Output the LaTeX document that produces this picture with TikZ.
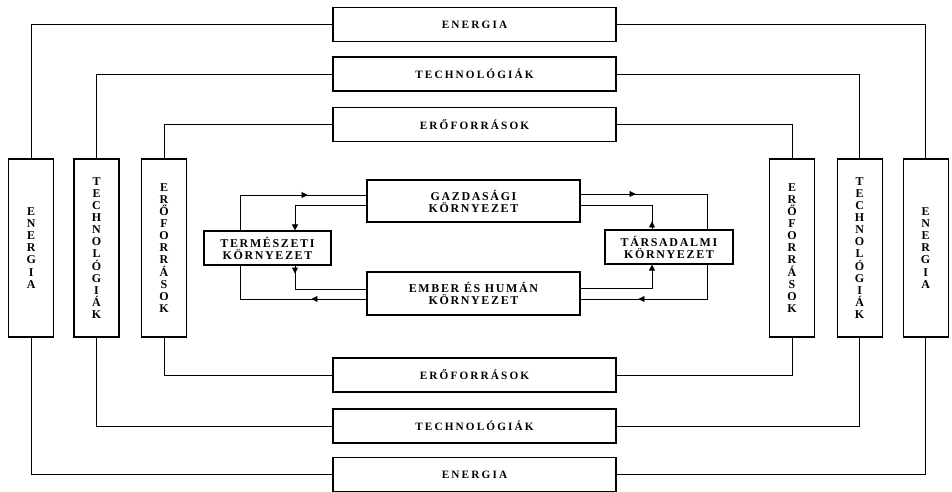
\documentclass[tikz,border=0pt]{standalone}
\usepackage{fontspec}
\setmainfont{Liberation Serif}
\newfontfamily\boxfont{Liberation Serif}[LetterSpace=19]
\newfontfamily\envfont{Liberation Serif}[LetterSpace=14]
\usetikzlibrary{arrows.meta, decorations.markings}

\tikzset{
  hbox/.style={draw, line width=0.8pt, minimum width=7.075cm, minimum height=0.85cm, inner sep=0pt,
    font={\boxfont\bfseries\fontsize{8}{9}\selectfont}},
  vbox/.style={draw, line width=0.8pt, minimum width=1.125cm, minimum height=4.45cm, inner sep=0pt, align=center,
    font={\bfseries\fontsize{8.5}{8.6}\selectfont}},
  envbox/.style={draw, line width=0.8pt, inner sep=0pt, align=center,
    font={\envfont\bfseries\fontsize{8.5}{8.6}\selectfont}},
  tip/.tip={Triangle[length=4.3pt, width=4.3pt]},
  flowmark/.style={postaction={decorate}, decoration={markings, mark=at position #1 with {\arrow{tip}}}}
}

\begin{document}
\begin{tikzpicture}[line width=0.5pt]
  \useasboundingbox (0,0) rectangle (23.8,12.3);

  % horizontal boxes, top and bottom
  \node[hbox] (etop) at (11.8625,11.6875) {ENERGIA};
  \node[hbox] (ttop) at (11.8625,10.45) {TECHNOLÓGIÁK};
  \node[hbox] (rtop) at (11.8625,9.1875) {ERŐFORRÁSOK};
  \node[hbox] (rbot) at (11.8625,2.925) {ERŐFORRÁSOK};
  \node[hbox] (tbot) at (11.8625,1.65) {TECHNOLÓGIÁK};
  \node[hbox] (ebot) at (11.8625,0.4375) {ENERGIA};

  % vertical boxes, left and right
  \node[vbox] (eleft) at (0.78,6.1) {E\\N\\E\\R\\G\\I\\A};
  \node[vbox] (tleft) at (2.4125,6.1) {T\\E\\C\\H\\N\\O\\L\\Ó\\G\\I\\Á\\K};
  \node[vbox] (rleft) at (4.1,6.1) {E\\R\\Ő\\F\\O\\R\\R\\Á\\S\\O\\K};
  \node[vbox] (rright) at (19.8,6.1) {E\\R\\Ő\\F\\O\\R\\R\\Á\\S\\O\\K};
  \node[vbox] (tright) at (21.49,6.1) {T\\E\\C\\H\\N\\O\\L\\Ó\\G\\I\\Á\\K};
  \node[vbox] (eright) at (23.14,6.1) {E\\N\\E\\R\\G\\I\\A};

  \draw (etop.west) -| (eleft.north);  \draw (etop.east) -| (eright.north);
  \draw (ttop.west) -| (tleft.north);  \draw (ttop.east) -| (tright.north);
  \draw (rtop.west) -| (rleft.north);  \draw (rtop.east) -| (rright.north);
  \draw (ebot.west) -| (eleft.south);  \draw (ebot.east) -| (eright.south);
  \draw (tbot.west) -| (tleft.south);  \draw (tbot.east) -| (tright.south);
  \draw (rbot.west) -| (rleft.south);  \draw (rbot.east) -| (rright.south);

  % the four environments in the middle
  \node[envbox, minimum width=5.325cm, minimum height=1.05cm] (gazd) at (11.8375,7.275) {GAZDASÁGI\\KÖRNYEZET};
  \node[envbox, minimum width=5.325cm, minimum height=1.075cm] (ember) at (11.8375,4.9625) {EMBER ÉS HUMÁN\\KÖRNYEZET};
  \node[envbox, minimum width=3.175cm, minimum height=0.85cm] (term) at (6.6875,6.1) {TERMÉSZETI\\KÖRNYEZET};
  \node[envbox, minimum width=3.2cm, minimum height=0.85cm] (tars) at (16.725,6.125) {TÁRSADALMI\\KÖRNYEZET};

  % outer loop
  \draw[flowmark=2.575cm] ([xshift=-0.6875cm]term.north) |- ([yshift=0.15cm]gazd.west);
  \draw[flowmark=1.375cm] ([yshift=0.175cm]gazd.east) -| ([xshift=0.95cm]tars.north);
  \draw[flowmark=2.575cm] ([xshift=0.95cm]tars.south) |- ([yshift=-0.1375cm]ember.east);
  \draw[flowmark=1.375cm] ([yshift=-0.1375cm]ember.west) -| ([xshift=-0.6875cm]term.south);

  % inner loop
  \draw[-tip] ([yshift=-0.1cm]gazd.west) -| ([xshift=0.6875cm]term.north);
  \draw[flowmark=0.2cm] ([xshift=0.6875cm]term.south) |- ([yshift=0.1125cm]ember.west);
  \draw[-tip] ([yshift=0.125cm]ember.east) -| ([xshift=-0.425cm]tars.south);
  \draw[flowmark=0.2cm] ([xshift=-0.425cm]tars.north) |- ([yshift=-0.1cm]gazd.east);
\end{tikzpicture}
\end{document}
